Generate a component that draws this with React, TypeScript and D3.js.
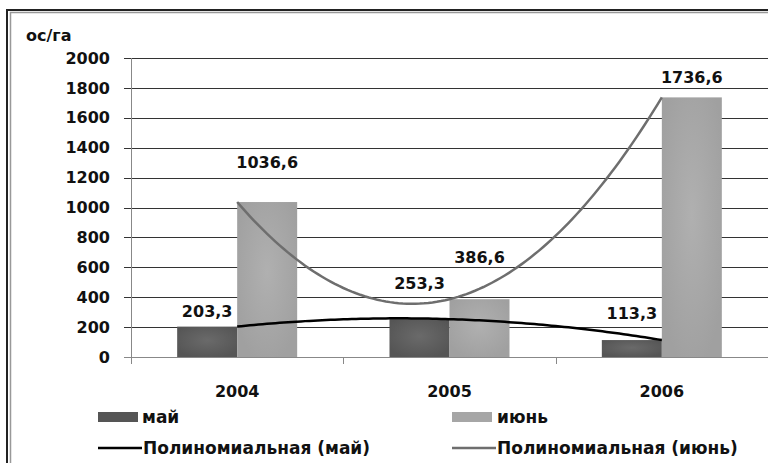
import React from "react";
import * as d3 from "d3";

const years = ["2004", "2005", "2006"];
const series = ["май", "июнь"];
const mayValues = [203.3, 253.3, 113.3];
const juneValues = [1036.6, 386.6, 1736.6];
const mayLabels = ["203,3", "253,3", "113,3"];
const juneLabels = ["1036,6", "386,6", "1736,6"];
const yTicks = [0, 200, 400, 600, 800, 1000, 1200, 1400, 1600, 1800, 2000];
const mayLabelDy = [15, 36, 27];
const juneLabelDy = [40, 42, 20];
const trendNames = ["Полиномиальная (май)", "Полиномиальная (июнь)"];

const W = 768;
const H = 463;
const FONT = "'DejaVu Sans', sans-serif";
const FS = 16;

// Quadratic polynomial fit (exact through 3 points), as in spreadsheet trendline
function polyFit(vals: number[]) {
  const xs = vals.map((_, i) => i + 1);
  return (x: number) => {
    let s = 0;
    for (let i = 0; i < xs.length; i++) {
      let l = 1;
      for (let j = 0; j < xs.length; j++) {
        if (j !== i) l *= (x - xs[j]) / (xs[i] - xs[j]);
      }
      s += vals[i] * l;
    }
    return s;
  };
}

export default function App() {
  const x = d3.scaleBand<string>().domain(years).range([131, 768]).padding(0);
  const y = d3.scaleLinear().domain([0, 2000]).range([357, 58]);
  const barW = 60;
  const inner = d3.scaleBand<string>().domain(series).range([0, barW * 2]).padding(0);
  const cx = (i: number) => (x(years[i]) as number) + x.bandwidth() / 2;
  const idxToPx = d3.scaleLinear().domain([1, 3]).range([cx(0), cx(2)]);

  const makeTrend = (vals: number[]) => {
    const f = polyFit(vals);
    const pts = d3.range(0, 101).map((k) => 1 + (2 * k) / 100);
    return d3
      .line<number>()
      .x((t) => idxToPx(t))
      .y((t) => y(f(t)))
      .curve(d3.curveLinear)(pts) as string;
  };

  const allSeries = [
    { name: series[0], vals: mayValues, labels: mayLabels, dy: mayLabelDy, fill: "url(#gMay)" },
    { name: series[1], vals: juneValues, labels: juneLabels, dy: juneLabelDy, fill: "url(#gJune)" },
  ];

  const txt = { fontFamily: FONT, fontWeight: "bold", fontSize: FS, fill: "#111" } as const;
  const legTxt = { ...txt, fontSize: 17 } as const;

  return (
    <svg width={W} height={H} style={{ position: "absolute", left: 0, top: 0, background: "#fff" }}>
      <defs>
        <radialGradient id="gMay" cx="50%" cy="45%" r="60%">
          <stop offset="0%" stopColor="#6a6a6a" />
          <stop offset="100%" stopColor="#555555" />
        </radialGradient>
        <radialGradient id="gJune" cx="50%" cy="45%" r="60%">
          <stop offset="0%" stopColor="#b0b0b0" />
          <stop offset="100%" stopColor="#a0a0a0" />
        </radialGradient>
      </defs>
      {/* frame */}
      <rect x={7} y={10} width={W + 10} height={H + 10} fill="none" stroke="#222" strokeWidth={2} />
      <rect x={10.5} y={12.5} width={W + 10} height={H + 10} fill="none" stroke="#999" strokeWidth={1.5} />

      {/* gridlines */}
      {yTicks.map((t) => (
        <g key={t}>
          <line x1={124} x2={768} y1={Math.round(y(t)) + 0.5} y2={Math.round(y(t)) + 0.5} stroke={t === 0 ? "#888" : "#333"} strokeWidth={1} />
          <text x={110} y={y(t)} dy="0.35em" textAnchor="end" {...txt}>
            {t}
          </text>
        </g>
      ))}
      {/* y axis line */}
      <line x1={131.5} x2={131.5} y1={58} y2={364} stroke="#888" strokeWidth={1} />
      {/* x ticks between categories */}
      {years.map((yr) => (
        <line key={yr} x1={Math.round((x(yr) as number) + x.bandwidth()) + 0.5} x2={Math.round((x(yr) as number) + x.bandwidth()) + 0.5} y1={357} y2={364} stroke="#888" />
      ))}

      {/* bars */}
      {allSeries.map((s) =>
        s.vals.map((v, i) => {
          const x0 = cx(i) - barW + (inner(s.name) as number);
          return <rect key={s.name + i} x={x0} y={y(v)} width={inner.bandwidth()} height={y(0) - y(v)} fill={s.fill} />;
        })
      )}

      {/* trendlines */}
      <path d={makeTrend(juneValues)} fill="none" stroke="#6e6e6e" strokeWidth={2.5} />
      <path d={makeTrend(mayValues)} fill="none" stroke="#000" strokeWidth={2.5} />

      {/* data labels */}
      {allSeries.map((s) =>
        s.vals.map((v, i) => {
          const x0 = cx(i) - barW + (inner(s.name) as number) + inner.bandwidth() / 2;
          return (
            <text key={"l" + s.name + i} x={x0} y={y(v) - s.dy[i]} dy="0.35em" textAnchor="middle" {...txt}>
              {s.labels[i]}
            </text>
          );
        })
      )}

      {/* x labels */}
      {years.map((yr, i) => (
        <text key={yr} x={cx(i)} y={391} dy="0.35em" textAnchor="middle" {...txt}>
          {yr}
        </text>
      ))}

      {/* axis title */}
      <text x={26} y={35} dy="0.35em" {...txt}>
        ос/га
      </text>

      {/* legend */}
      <rect x={98} y={412} width={40} height={10} fill="#555" />
      <text x={142} y={417} dy="0.35em" {...legTxt}>{series[0]}</text>
      <rect x={452} y={412} width={40} height={10} fill="#a6a6a6" />
      <text x={497} y={417} dy="0.35em" {...legTxt}>{series[1]}</text>
      <line x1={98} x2={142} y1={448} y2={448} stroke="#000" strokeWidth={2.5} />
      <text x={143} y={448} dy="0.35em" {...legTxt}>{trendNames[0]}</text>
      <line x1={452} x2={496} y1={448} y2={448} stroke="#6e6e6e" strokeWidth={2.5} />
      <text x={497} y={448} dy="0.35em" {...legTxt}>{trendNames[1]}</text>
    </svg>
  );
}
